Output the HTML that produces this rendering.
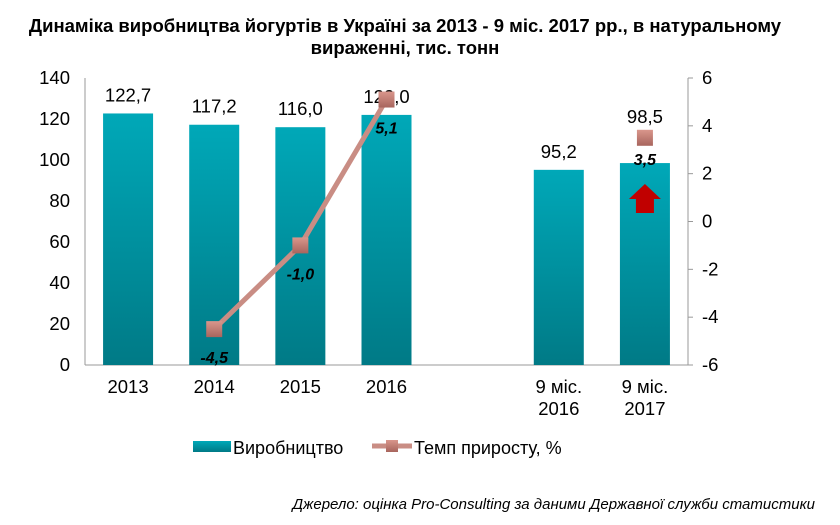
<!DOCTYPE html>
<html><head><meta charset="utf-8"><style>
body{margin:0;background:#fff;width:840px;height:520px;overflow:hidden;font-family:"Liberation Sans",sans-serif}
svg text{font-family:"Liberation Sans",sans-serif}
</style></head><body>
<svg id="chart" width="840" height="520">
<defs>
<linearGradient id="bg" x1="0" y1="0" x2="0" y2="1"><stop offset="0" stop-color="#00a8b8"/><stop offset="1" stop-color="#007a86"/></linearGradient>
<linearGradient id="mg" x1="0" y1="0" x2="0" y2="1"><stop offset="0" stop-color="#d9968c"/><stop offset="1" stop-color="#a8655d"/></linearGradient>
</defs>
<text x="405" y="32" text-anchor="middle" font-size="18.5" font-weight="bold">Динаміка виробництва йогуртів в Україні за 2013 - 9 міс. 2017 рр., в натуральному</text>
<text x="405" y="54" text-anchor="middle" font-size="18.5" font-weight="bold">вираженні, тис. тонн</text>
<g id="plot"></g>
<g>
<rect x="193" y="441" width="38" height="11" fill="url(#bg)"/>
<text x="233" y="454" font-size="18">Виробництво</text>
<line x1="372" y1="446" x2="412" y2="446" stroke="#c98d84" stroke-width="5"/>
<rect x="386" y="440" width="12" height="12" fill="url(#mg)"/>
<text x="414" y="454" font-size="18">Темп приросту, %</text>
</g>
<text x="815" y="509" text-anchor="end" font-size="15" font-style="italic">Джерело: оцінка Pro-Consulting за даними Державної служби статистики</text>
</svg>
<script>
const categories=[["2013"],["2014"],["2015"],["2016"],[],["9 міс.","2016"],["9 міс.","2017"]];
const production=[122.7,117.2,116.0,122.0,null,95.2,98.5];
const growth=[null,-4.5,-1.0,5.1,null,null,3.5];
const leftTicks=[0,20,40,60,80,100,120,140];
const rightTicks=[-6,-4,-2,0,2,4,6];
const NS="http://www.w3.org/2000/svg";
const g=document.getElementById('plot');
const X0=85,X1=688,Y0=365,Y1=78,slot=(X1-X0)/categories.length;
const xc=i=>X0+slot*(i+0.5);
const yl=v=>Y0-(v/140)*(Y0-Y1);
const yr=v=>Y0-((v+6)/12)*(Y0-Y1);
const fmt=v=>v.toFixed(1).replace('.',',');
function el(t,a,txt){const e=document.createElementNS(NS,t);for(const k in a)e.setAttribute(k,a[k]);if(txt!==undefined)e.textContent=txt;g.appendChild(e);return e;}
let e;
e=el('line',{x1:X0,y1:Y1,x2:X0,y2:Y0,stroke:'#999'});


e=el('line',{x1:X0,y1:Y0,x2:X1,y2:Y0,stroke:'#999'});


e=el('line',{x1:X1,y1:Y1,x2:X1,y2:Y0,stroke:'#999'});


leftTicks.forEach(v=>{
 e=el('text',{x:70,y:yl(v)+6,'text-anchor':'end','font-size':18.5},String(v));
 
 
});
rightTicks.forEach(v=>{
 el('line',{x1:X1,y1:yr(v),x2:X1+5,y2:yr(v),stroke:'#999'});
 e=el('text',{x:702,y:yr(v)+6,'font-size':18.5},String(v));
 
 
});
categories.forEach((c,i)=>{
 c.forEach((s,j)=>{
  e=el('text',{x:xc(i),y:393+j*22,'text-anchor':'middle','font-size':18.5},s);
  
  
 });
});
production.forEach((v,i)=>{
 if(v===null)return;
 e=el('rect',{x:xc(i)-25,y:yl(v),width:50,height:Y0-yl(v),fill:'url(#bg)'});
 
 
 const off=i===6?40:12;
 e=el('text',{x:xc(i),y:yl(v)-off,'text-anchor':'middle','font-size':18.5},fmt(v));
 
 
});
e=el('polygon',{points:(()=>{const c=xc(6);return `${c},184 ${c+16},199 ${c+9},199 ${c+9},213 ${c-9},213 ${c-9},199 ${c-16},199`})(),fill:'#c00000'});


let pts=[];
growth.forEach((v,i)=>{if(v!==null&&i<4)pts.push(xc(i)+','+yr(v));});
e=el('polyline',{points:pts.join(' '),fill:'none',stroke:'#c98d84','stroke-width':5});


growth.forEach((v,i)=>{
 if(v===null)return;
 e=el('rect',{x:xc(i)-8,y:yr(v)-8,width:16,height:16,fill:'url(#mg)'});
 
 
 const ly=i===6?yr(v)+27:yr(v)+34;
 e=el('text',{x:xc(i),y:ly,'text-anchor':'middle','font-size':16,'font-weight':'bold','font-style':'italic'},fmt(v));
 
 
});
</script>
</body></html>
